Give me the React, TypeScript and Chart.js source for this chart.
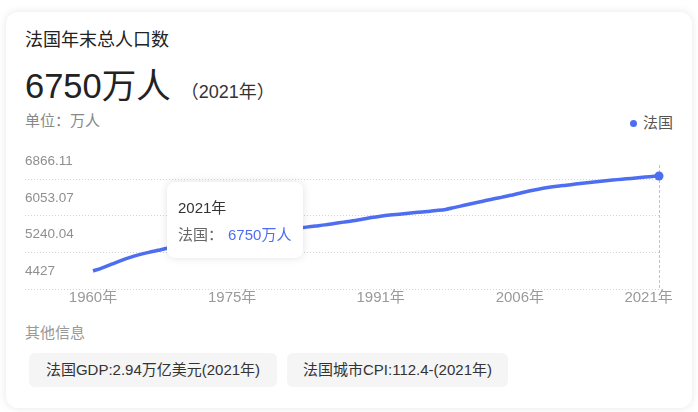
import React, { useEffect, useRef } from 'react';
import { Chart, registerables } from 'chart.js';

Chart.register(...registerables);

const years = [
  1960, 1961, 1962, 1963, 1964, 1965, 1966, 1967, 1968, 1969,
  1970, 1971, 1972, 1973, 1974, 1975, 1976, 1977, 1978, 1979,
  1980, 1981, 1982, 1983, 1984, 1985, 1986, 1987, 1988, 1989,
  1990, 1991, 1992, 1993, 1994, 1995, 1996, 1997, 1998, 1999,
  2000, 2001, 2002, 2003, 2004, 2005, 2006, 2007, 2008, 2009,
  2010, 2011, 2012, 2013, 2014, 2015, 2016, 2017, 2018, 2019,
  2020, 2021,
];

const population = [
  4660, 4730, 4810, 4890, 4960, 5020, 5070, 5115, 5160, 5200,
  5245, 5290, 5335, 5375, 5405, 5430, 5455, 5478, 5500, 5525,
  5550, 5575, 5600, 5625, 5650, 5675, 5705, 5735, 5765, 5800,
  5835, 5865, 5890, 5910, 5930, 5950, 5970, 5990, 6015, 6060,
  6105, 6150, 6195, 6240, 6280, 6325, 6370, 6420, 6460, 6495,
  6525, 6548, 6572, 6598, 6620, 6640, 6660, 6680, 6697, 6717,
  6735, 6750,
];

const seriesName = '法国';
const xTickYears = [1960, 1975, 1991, 2006, 2021];
const yTickLabels = ['4427', '5240.04', '6053.07', '6866.11'];
const Y_MIN = 4264;
const Y_MAX = 6992;
const Y_STEP = 803;
const X_MIN = 1952.67;
const X_MAX = 2021;

const BLUE = '#4e6ef2';
const FONT = "'Liberation Sans', Arial, 'Noto Sans CJK SC', sans-serif";

const crosshair = {
  id: 'crosshair',
  beforeDatasetsDraw(chart: any) {
    const { ctx, chartArea, scales } = chart;
    const x = Math.round(scales.x.getPixelForValue(years[years.length - 1])) + 0.5;
    ctx.save();
    ctx.strokeStyle = '#c4c4c4';
    ctx.lineWidth = 1;
    ctx.setLineDash([3, 2]);
    ctx.beginPath();
    ctx.moveTo(x, chartArea.top);
    ctx.lineTo(x, chartArea.bottom);
    ctx.stroke();
    ctx.restore();
  },
};

function LineChart() {
  const ref = useRef<HTMLCanvasElement | null>(null);
  useEffect(() => {
    if (!ref.current) return;
    const last = population.length - 1;
    const chart = new Chart(ref.current, {
      type: 'line',
      data: {
        datasets: [
          {
            label: seriesName,
            data: years.map((y, i) => ({ x: y, y: population[i] })),
            borderColor: BLUE,
            backgroundColor: BLUE,
            borderWidth: 3.5,
            tension: 0.3,
            pointRadius: (c: any) => (c.dataIndex === last ? 4.5 : 0),
            pointBorderWidth: 0,
            pointBackgroundColor: BLUE,
            clip: false as any,
          },
        ],
      },
      options: {
        animation: false,
        responsive: false,
        maintainAspectRatio: false,
        layout: { autoPadding: false, padding: { top: 10, right: 38, bottom: 0, left: 0 } },
        plugins: { legend: { display: false }, tooltip: { enabled: false } },
        scales: {
          x: {
            type: 'linear',
            min: X_MIN,
            max: X_MAX,
            afterBuildTicks: (scale: any) => {
              scale.ticks = xTickYears.map((v) => ({ value: v }));
            },
            grid: { display: false, drawTicks: false },
            border: { display: false },
            ticks: {
              padding: 0,
              color: '#9a9a9a',
              font: { size: 15, family: FONT },
              maxRotation: 0,
              autoSkip: false,
              callback: (v: any) =>
                v === xTickYears[xTickYears.length - 1] ? `${v}年     ` : `${v}年`,
            },
          },
          y: {
            type: 'linear',
            min: Y_MIN,
            max: Y_MAX,
            afterBuildTicks: (scale: any) => {
              scale.ticks = yTickLabels.map((_, i) => ({ value: Y_MIN + i * Y_STEP }));
            },
            grid: {
              color: '#d4d4d4',
              lineWidth: 1,
              drawTicks: false,
            },
            border: { display: false, dash: [1, 2] },
            ticks: {
              mirror: true,
              padding: 0,
              labelOffset: -18,
              color: '#8f8f8f',
              font: { size: 13.5, family: FONT },
              callback: (_v: any, i: number) => yTickLabels[i],
            },
          },
        },
      } as any,
      plugins: [crosshair],
    });
    return () => chart.destroy();
  }, []);
  return (
    <canvas
      ref={ref}
      width={672}
      height={152}
      style={{ position: 'absolute', left: 25, top: 155, width: 672, height: 152 }}
    />
  );
}

const abs = (s: any) => ({ position: 'absolute' as const, ...s });

export default function App() {
  return (
    <div
      style={{
        position: 'fixed',
        left: 0,
        top: 0,
        width: 698,
        height: 412,
        background: '#fff',
        fontFamily: "Arial, 'Liberation Sans', 'Noto Sans CJK SC', sans-serif",
        overflow: 'hidden',
      }}
    >
      <div
        style={abs({
          left: 6,
          top: 12,
          width: 686,
          height: 396,
          borderRadius: 12,
          background: '#fff',
          boxShadow: '0 0 8px rgba(0,0,0,0.10)',
        })}
      />
      <div style={abs({ left: 25, top: 28, fontSize: 18, lineHeight: '24px', color: '#222' })}>
        法国年末总人口数
      </div>
      <div style={abs({ left: 25, top: 66, lineHeight: '40px', color: '#222', whiteSpace: 'nowrap' })}>
        <span style={{ fontSize: 34.5 }}>6750万人</span>
        <span style={{ fontSize: 18, marginLeft: 10, color: '#333' }}>（2021年）</span>
      </div>
      <div style={abs({ left: 25, top: 111, fontSize: 15, lineHeight: '20px', color: '#888' })}>
        单位：万人
      </div>
      <div
        style={abs({
          left: 630,
          top: 113,
          fontSize: 15,
          lineHeight: '20px',
          color: '#555',
          display: 'flex',
          alignItems: 'center',
        })}
      >
        <span
          style={{
            width: 7,
            height: 7,
            borderRadius: '50%',
            background: BLUE,
            display: 'inline-block',
            marginRight: 6,
          }}
        />
        {seriesName}
      </div>
      <LineChart />
      <div
        style={abs({
          left: 167,
          top: 182,
          width: 136,
          height: 76,
          background: '#fff',
          borderRadius: 8,
          boxShadow: '0 0 8px rgba(0,0,0,0.12)',
          boxSizing: 'border-box',
          padding: '12px 0 0 11px',
          fontSize: 15,
          lineHeight: '27px',
        })}
      >
        <div style={{ color: '#333' }}>2021年</div>
        <div style={{ color: '#666' }}>
          法国：<span style={{ color: BLUE, marginLeft: 5 }}>6750万人</span>
        </div>
      </div>
      <div style={abs({ left: 25, top: 323, fontSize: 15, lineHeight: '20px', color: '#999' })}>
        其他信息
      </div>
      <div
        style={abs({
          left: 29,
          top: 353,
          width: 248,
          height: 34,
          borderRadius: 6,
          background: '#f5f5f6',
          color: '#333',
          fontSize: 15,
          lineHeight: '34px',
          textAlign: 'center',
          whiteSpace: 'nowrap',
        })}
      >
        法国GDP:2.94万亿美元(2021年)
      </div>
      <div
        style={abs({
          left: 287,
          top: 353,
          width: 221,
          height: 34,
          borderRadius: 6,
          background: '#f5f5f6',
          color: '#333',
          fontSize: 15,
          lineHeight: '34px',
          textAlign: 'center',
          whiteSpace: 'nowrap',
        })}
      >
        法国城市CPI:112.4-(2021年)
      </div>
    </div>
  );
}
